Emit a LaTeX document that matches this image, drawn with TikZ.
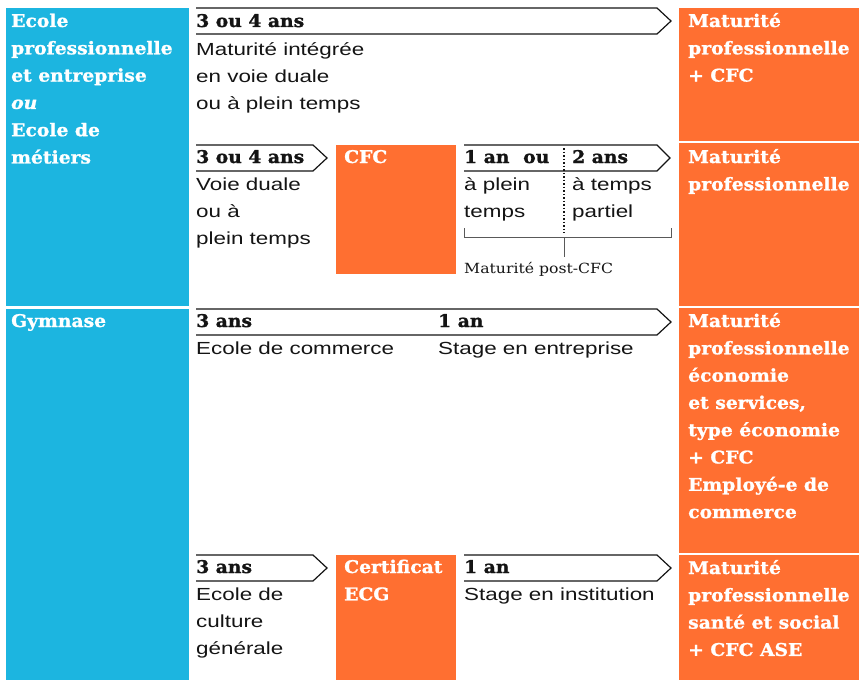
\documentclass[tikz,border=0pt]{standalone}
\usepackage{fontspec}
\newfontfamily\slab[FakeStretch=1.07, BoldFeatures={FakeBold=1.2}, BoldItalicFeatures={FakeBold=1.2}]{DejaVu Serif}
\newfontfamily\slabsmall[FakeStretch=1.12]{DejaVu Serif}
\newfontfamily\grot[FakeStretch=1.28]{Liberation Sans}
\definecolor{cblue}{RGB}{28,181,224}
\definecolor{corange}{RGB}{255,111,49}
\definecolor{ink}{RGB}{20,20,20}
\newcommand\stk[1]{\begin{tabular}[t]{@{}l@{}}#1\end{tabular}}
\tikzset{
  lab/.style={anchor=base west, inner sep=0pt, text=ink, font=\slab\bfseries\fontsize{17.5}{27.3}\selectfont},
  wlab/.style={lab, text=white},
  txt/.style={anchor=base west, inner sep=0pt, text=ink, font=\grot\fontsize{17.5}{27.3}\selectfont},
  small/.style={anchor=base west, inner sep=0pt, text=ink, font=\slabsmall\fontsize{14}{16}\selectfont},
  arr/.style={draw=ink, line width=1.2pt, line join=miter},
  bfill/.style={fill=cblue},
  ofill/.style={fill=corange},
  brk/.style={draw=black!65, line width=1pt},
}
\begin{document}
\begin{tikzpicture}[x=1pt, y=-1pt]
\useasboundingbox (0,0) rectangle (859,680);
% blue column
\fill[bfill] (6,8) rectangle (189,305.5);
\fill[bfill] (6,308.5) rectangle (189,680);
% orange column
\fill[ofill] (679,8) rectangle (859,141);
\fill[ofill] (679,143) rectangle (859,306);
\fill[ofill] (679,308.3) rectangle (859,553);
\fill[ofill] (679,555) rectangle (859,680);
% middle orange boxes
\fill[ofill] (336,145) rectangle (456,274);
\fill[ofill] (336,555) rectangle (456,680);
% arrows
\draw[arr] (196,8) -- (657,8) -- (671,21) -- (657,34) -- (196,34);
\draw[arr] (196,145) -- (313,145) -- (327,158) -- (313,171) -- (196,171);
\draw[arr] (464,145) -- (657,145) -- (670,158) -- (657,171) -- (464,171);
\draw[arr] (196,309) -- (657,309) -- (671,322) -- (657,335) -- (196,335);
\draw[arr] (196,555) -- (313,555) -- (327,568) -- (313,581) -- (196,581);
\draw[arr] (464,555) -- (657,555) -- (671,568) -- (657,581) -- (464,581);
% dotted separator and bracket
\coordinate (d1) at (564,148);
\coordinate (d2) at (564,233);
\draw[ink, line width=1.5pt, dash pattern=on 1.5pt off 2pt] (d1) -- (d2);
\coordinate (bl) at (464,228);
\coordinate (br) at (671,228);
\coordinate (bm) at (564,237);
\coordinate (bs) at (564,257);
\draw[brk] (bl) -- (464,237) -- (671,237) -- (br);
\draw[brk] (bm) -- (bs);
% blue texts
\node[wlab] (ecole) at (11,27) {\stk{Ecole\\professionnelle\\et entreprise\\\textit{ou}\\Ecole de\\métiers}};
\node[wlab] (gym) at (11,327) {Gymnase};
% row 1
\node[lab] (r1y) at (196,27) {3 ou 4 ans};
\node[txt] (r1t) at (196,55) {\stk{Maturité intégrée\\en voie duale\\ou à plein temps}};
\node[wlab] (o1) at (688,27) {\stk{Maturité\\professionnelle\\+ CFC}};
% row 2
\node[lab] (r2y) at (196,163) {3 ou 4 ans};
\node[txt] (r2t) at (196,190) {\stk{Voie duale\\ou à\\plein temps}};
\node[wlab] (cfc) at (344,163) {CFC};
\node[lab] (r2a) at (464,163) {1 an};
\node[lab] (r2ou) at (523,163) {ou};
\node[lab] (r2b) at (572,163) {2 ans};
\node[txt] (r2ta) at (464,190) {\stk{à plein\\temps}};
\node[txt] (r2tb) at (572,190) {\stk{à temps\\partiel}};
\node[small] (post) at (464,273) {Maturité post-CFC};
\node[wlab] (o2) at (688,163) {\stk{Maturité\\professionnelle}};
% row 3
\node[lab] (r3y) at (196,327) {3 ans};
\node[lab] (r3b) at (438,327) {1 an};
\node[txt] (r3t) at (196,354) {Ecole de commerce};
\node[txt] (r3tb) at (438,354) {Stage en entreprise};
\node[wlab] (o3) at (688,327) {\stk{Maturité\\professionnelle\\économie\\et services,\\type économie\\+ CFC\\Employé-e de\\commerce}};
% row 4
\node[lab] (r4y) at (196,573) {3 ans};
\node[txt] (r4t) at (196,600) {\stk{Ecole de\\culture\\générale}};
\node[wlab] (ecg) at (344,573) {\stk{Certificat\\ECG}};
\node[lab] (r4b) at (464,573) {1 an};
\node[txt] (r4tb) at (464,600) {Stage en institution};
\node[wlab] (o4) at (688,574) {\stk{Maturité\\professionnelle\\santé et social\\+ CFC ASE}};
\end{tikzpicture}
\end{document}
